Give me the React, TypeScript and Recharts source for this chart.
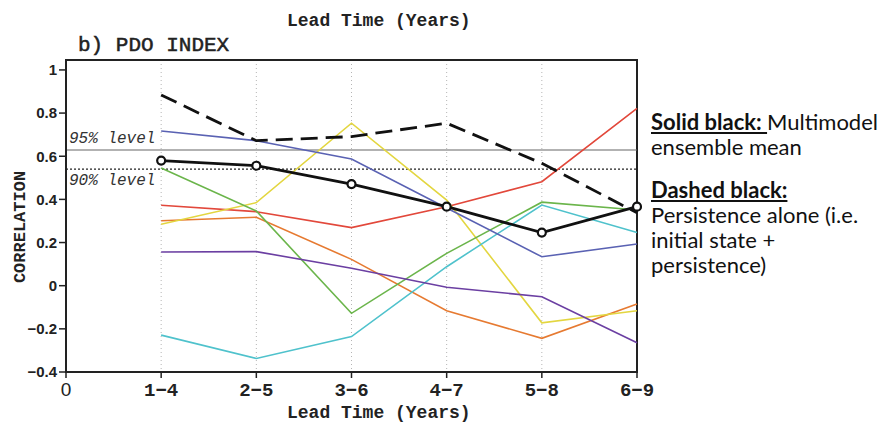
import { CartesianGrid, Line, LineChart, ReferenceArea, ReferenceLine, XAxis, YAxis } from "recharts";

const categories = ["0", "1-4", "2-5", "3-6", "4-7", "5-8", "6-9"];
const ensembleMean = [0.58, 0.556, 0.471, 0.366, 0.246, 0.366];
const persistence = [0.884, 0.672, 0.691, 0.753, 0.567, 0.338];
const redModel = [0.373, 0.343, 0.269, 0.366, 0.482, 0.822];
const orangeModel = [0.301, 0.317, 0.122, -0.116, -0.244, -0.085];
const yellowModel = [0.285, 0.385, 0.753, 0.397, -0.172, -0.116];
const greenModel = [0.545, 0.346, -0.128, 0.15, 0.387, 0.351];
const cyanModel = [-0.229, -0.337, -0.236, 0.088, 0.374, 0.247];
const blueModel = [0.717, 0.672, 0.587, 0.36, 0.134, 0.193];
const purpleModel = [0.156, 0.158, 0.081, -0.007, -0.051, -0.264];
const yTicks = [-0.4, -0.2, 0, 0.2, 0.4, 0.6, 0.8, 1];
const level95 = 0.629;
const level90 = 0.54;

const models = [
  { key: "red", values: redModel, color: "#e2483b" },
  { key: "orange", values: orangeModel, color: "#e67a31" },
  { key: "yellow", values: yellowModel, color: "#e3d640" },
  { key: "green", values: greenModel, color: "#6bb54b" },
  { key: "cyan", values: cyanModel, color: "#4fc2cc" },
  { key: "blue", values: blueModel, color: "#5a62b3" },
  { key: "purple", values: purpleModel, color: "#6b3fa2" },
];

const data = categories.slice(1).map((label, i) => {
  const row: Record<string, number | string> = { x: i + 1, label, mean: ensembleMean[i], persistence: persistence[i] };
  models.forEach((m) => (row[m.key] = m.values[i]));
  return row;
});

const mono = "'Liberation Mono', 'DejaVu Sans Mono', monospace";
const sans = "'Liberation Sans', Arial, sans-serif";

function XTick({ x, y, payload }: any) {
  const v = payload.value as number;
  if (v === 0) {
    return (
      <text x={x} y={y} dy="0.71em" textAnchor="middle" fontFamily={sans} fontSize={19} fill="#222">
        0
      </text>
    );
  }
  return (
    <text x={x} y={y} dy="0.71em" textAnchor="middle" fontFamily={mono} fontWeight="bold" fontSize={19} fill="#222">
      {categories[v].replace("-", "\u2212")}
    </text>
  );
}

function formatY(v: number) {
  if (v === 0) return "0";
  if (v === 1) return "1";
  return (v < 0 ? "\u2212" : "") + Math.abs(v).toFixed(1);
}

function overlay(left: number, centerY: number, size: number, text: string, extra: React.CSSProperties = {}) {
  return (
    <div
      style={{
        position: "absolute",
        left,
        top: centerY - size / 2,
        fontSize: size,
        lineHeight: `${size}px`,
        fontFamily: mono,
        fontWeight: "bold",
        color: "#222",
        whiteSpace: "nowrap",
        ...extra,
      }}
    >
      {text}
    </div>
  );
}

export default function App() {
  return (
    <div style={{ position: "absolute", left: 0, top: 0, width: 886, height: 422, background: "#fff", overflow: "hidden" }}>
      <LineChart width={886} height={422} data={data} margin={{ top: 60, right: 249, bottom: 0, left: 0 }}>
        <CartesianGrid horizontal={false} stroke="#b5b5b5" strokeDasharray="1 3" />
        <XAxis
          dataKey="x"
          type="number"
          domain={[0, 6]}
          ticks={[0, 1, 2, 3, 4, 5, 6]}
          height={50}
          tick={<XTick />}
          tickSize={6}
          tickMargin={5}
          axisLine={{ stroke: "#222", strokeWidth: 2 }}
          tickLine={{ stroke: "#222", strokeWidth: 1.5 }}
          interval={0}
        />
        <YAxis
          type="number"
          domain={[-0.4, 1.046]}
          ticks={yTicks}
          width={66}
          tickFormatter={formatY}
          tickSize={7}
          tickMargin={2}
          tick={{ fontFamily: sans, fontSize: 15, fontWeight: "bold", fill: "#222" }}
          axisLine={{ stroke: "#222", strokeWidth: 2 }}
          tickLine={{ stroke: "#222", strokeWidth: 1.5 }}
          allowDataOverflow
        />
        <ReferenceLine y={level95} stroke="#666" strokeWidth={1.2} />
        <ReferenceLine y={level90} stroke="#222" strokeWidth={1.2} strokeDasharray="2 2" />
        {models.map((m) => (
          <Line
            key={m.key}
            dataKey={m.key}
            type="linear"
            stroke={m.color}
            strokeWidth={1.6}
            dot={false}
            isAnimationActive={false}
          />
        ))}
        <Line
          dataKey="persistence"
          type="linear"
          stroke="#111"
          strokeWidth={2.8}
          strokeDasharray="17 8"
          dot={false}
          isAnimationActive={false}
        />
        <Line
          dataKey="mean"
          type="linear"
          stroke="#111"
          strokeWidth={2.8}
          dot={{ r: 4, fill: "#fff", stroke: "#111", strokeWidth: 2.2 }}
          isAnimationActive={false}
        />
        <ReferenceArea x1={0} x2={6} y1={-0.4} y2={1.046} fill="none" stroke="#222" strokeWidth={2} ifOverflow="visible" />
      </LineChart>

      {overlay(287, 21, 18, "Lead Time (Years)")}
      {overlay(78, 45, 21, "b) PDO INDEX", { fontWeight: "normal", WebkitTextStroke: "0.5px #222" })}
      {overlay(287, 413, 18, "Lead Time (Years)", { lineHeight: "16px", top: 405 })}
      {overlay(69, 139, 16, "95% level", { fontWeight: "normal", fontStyle: "italic", color: "#333" })}
      {overlay(69, 181, 16, "90% level", { fontWeight: "normal", fontStyle: "italic", color: "#333" })}
      <div
        style={{
          position: "absolute",
          left: 21 - 60,
          top: 227 - 9,
          width: 120,
          height: 18,
          lineHeight: "18px",
          fontSize: 17,
          fontFamily: mono,
          fontWeight: "bold",
          color: "#222",
          textAlign: "center",
          transform: "rotate(-90deg)",
          whiteSpace: "nowrap",
        }}
      >
        CORRELATION
      </div>

      <div
        style={{
          position: "absolute",
          left: 651,
          top: 109,
          fontFamily: "Lato, 'Open Sans', sans-serif",
          fontSize: 22,
          lineHeight: "25px",
          color: "#111",
          whiteSpace: "nowrap",
        }}
      >
        <div>
          <b style={{ textDecoration: "underline" }}>Solid black: </b>Multimodel
        </div>
        <div>ensemble mean</div>
        <div style={{ height: 18 }} />
        <div>
          <b style={{ textDecoration: "underline" }}>Dashed black:</b>
        </div>
        <div>Persistence alone (i.e.</div>
        <div>initial state +</div>
        <div>persistence)</div>
      </div>
    </div>
  );
}
